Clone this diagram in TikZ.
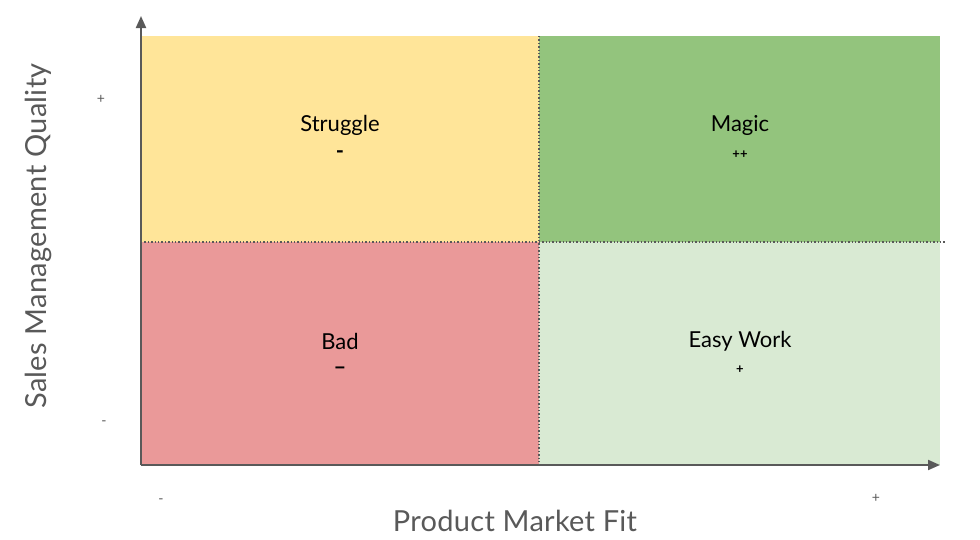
\documentclass[tikz,border=0pt]{standalone}
\usepackage{fontspec}
\setmainfont{Lato}
\usetikzlibrary{arrows.meta}
\definecolor{cyel}{HTML}{FFE599}
\definecolor{cgrn}{HTML}{93C47D}
\definecolor{cred}{HTML}{EA9999}
\definecolor{clgr}{HTML}{D9EAD3}
\definecolor{axg}{HTML}{595959}
\tikzset{
 quad/.style={fill=#1,draw=none},
 qlabel/.style={font=\fontsize{22}{26}\selectfont,text=black,align=center},
 axlabel/.style={font=\fontsize{29}{33}\selectfont\addfontfeatures{LetterSpace=1},text=axg},
 tick/.style={font=\fontsize{14}{16}\selectfont,text=axg},
 dotline/.style={dotted,line width=1.4pt,draw=axg},
 axis/.style={line width=2pt,draw=axg,-{Triangle[length=12pt,width=10pt]}}
}
\begin{document}
\begin{tikzpicture}[x=1pt,y=-1pt]
\useasboundingbox (0,0) rectangle (980,539);
\fill[quad=cyel] (141,36) rectangle (539,242);
\fill[quad=cgrn] (539,36) rectangle (940,242);
\fill[quad=cred] (141,242) rectangle (539,465);
\fill[quad=clgr] (539,242) rectangle (940,465);
\coordinate (vt) at (539,36); \coordinate (vb) at (539,465);
\coordinate (hl) at (141,242); \coordinate (hr) at (945,242);
\draw[dotline] (vt) -- (vb);
\draw[dotline] (hl) -- (hr);
\coordinate (o) at (141,465); \coordinate (ytop) at (141,16); \coordinate (xend) at (940,465);
\draw[axis] (o) -- (ytop);
\draw[axis] (o) -- (xend);
\node[qlabel] (s) at (340,125) {Struggle};
\node[qlabel,font=\fontsize{22}{26}\selectfont\bfseries] (s2) at (340,155) {-};
\node[qlabel] (m) at (740,125) {Magic};
\node[qlabel,font=\fontsize{13}{15}\selectfont\bfseries] (m2) at (740,155) {++};
\node[qlabel] (b) at (340,341) {Bad};
\node[qlabel,font=\fontsize{22}{26}\selectfont\bfseries] (b2) at (340,371) {--};
\node[qlabel] (e) at (740,341) {Easy Work};
\node[qlabel,font=\fontsize{13}{15}\selectfont\bfseries] (e2) at (740,370) {+};
\node[axlabel] (px) at (515,521) {Product Market Fit};
\node[axlabel,rotate=90] (py) at (38,236) {Sales Management Quality};
\node[tick] (t1) at (101,99) {+};
\node[tick] (t2) at (104,423) {-};
\node[tick] (t3) at (161,501) {-};
\node[tick] (t4) at (876,498) {+};
\end{tikzpicture}
\end{document}
